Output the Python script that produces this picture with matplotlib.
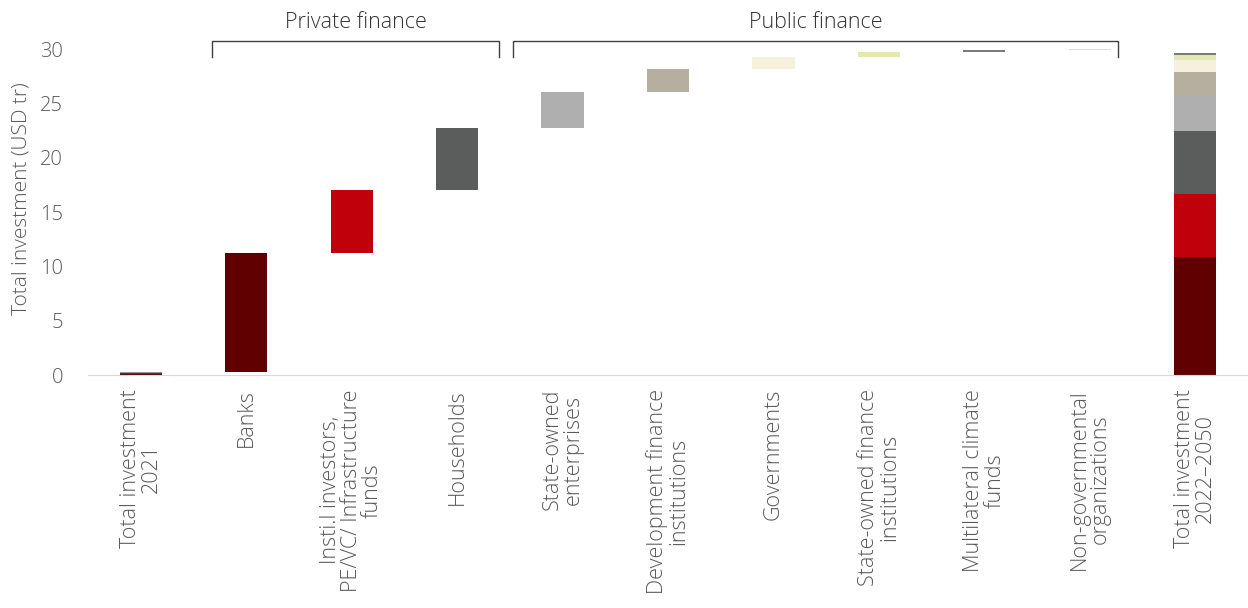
import matplotlib.pyplot as plt
import numpy as np

# categories along the x axis
labels = [
    "Total investment\n2021",
    "Banks",
    "Insti.l investors,\nPE/VC/ Infrastructure\nfunds",
    "Households",
    "State-owned\nenterprises",
    "Development finance\ninstitutions",
    "Governments",
    "State-owned finance\ninstitutions",
    "Multilateral climate\nfunds",
    "Non-governmental\norganizations",
    "Total investment\n2022\u20132050",
]

# 2021 total, split by source (USD tr)
base_2021 = [0.1, 0.1, 0.05, 0.05]
base_colors = ["#600000", "#c0000b", "#8c9a9a", "#b9cfcf"]

# additional investment 2022-2050 by source (USD tr)
increments = [10.9, 5.8, 5.75, 3.3, 2.1, 1.1, 0.5, 0.2, 0.03]
colors = ["#600000", "#c0000b", "#5a5d5c", "#afafaf", "#b6ae9f",
          "#f6f1dd", "#e4e9b2", "#7a7a7a", "#bfe6ee"]

# (name, first index, last index, left overhang, right overhang)
groups = [("Private finance", 1, 3, 0.32, 0.40),
          ("Public finance", 4, 9, 0.47, 0.27)]

plt.rcParams["font.family"] = ["Open Sans", "DejaVu Sans"]
plt.rcParams["font.weight"] = "light"
plt.rcParams["axes.labelweight"] = "light"
txt = "#595959"

fig, ax = plt.subplots(figsize=(12.48, 6.08), dpi=100)
fig.subplots_adjust(left=0.0705, right=1.0, top=0.964, bottom=0.383)

w = 0.4
x = np.arange(len(labels))

# first bar: 2021 total
bottom = 0.0
for v, c in zip(base_2021, base_colors):
    ax.bar(x[0], v, w, bottom=bottom, color=c, edgecolor="none")
    bottom += v

# waterfall bars
start = sum(base_2021)
for i, (v, c) in enumerate(zip(increments, colors)):
    ax.bar(x[i + 1], v, w, bottom=start, color=c, edgecolor="none")
    start += v

# final stacked bar
bottom = 0.0
for v, c in zip(increments, colors):
    ax.bar(x[-1], v, w, bottom=bottom, color=c, edgecolor="none")
    bottom += v

ax.set_xlim(-0.5, 10.5)
ax.set_ylim(0, 32.5)
ax.set_yticks(range(0, 31, 5))
ax.set_xticks(x)
ax.set_xticklabels(labels, rotation=90, ha="center", va="top",
                   multialignment="center", linespacing=1.0)
ax.tick_params(axis="x", length=0, labelsize=15.5, colors=txt, pad=10)
ax.tick_params(axis="y", length=0, labelsize=14.5, colors=txt, pad=18)
ax.set_ylabel("Total investment (USD tr)", fontsize=15, color=txt,
              fontweight="light", labelpad=6)

for s in ["top", "right", "left"]:
    ax.spines[s].set_visible(False)
ax.spines["bottom"].set_color("#d9d9d9")

# group brackets
for name, a, b, lo, ro in groups:
    x0, x1 = a - lo, b + ro
    ax.plot([x0, x0, x1, x1], [29.25, 30.7, 30.7, 29.25], color="#404040",
            lw=1.0, clip_on=False)
    ax.text((x0 + x1) / 2, 32.45, name, ha="center", va="center",
            fontsize=15.5, color="#333333", fontweight="light",
            clip_on=False)

fig.savefig("out.png", dpi=100)
